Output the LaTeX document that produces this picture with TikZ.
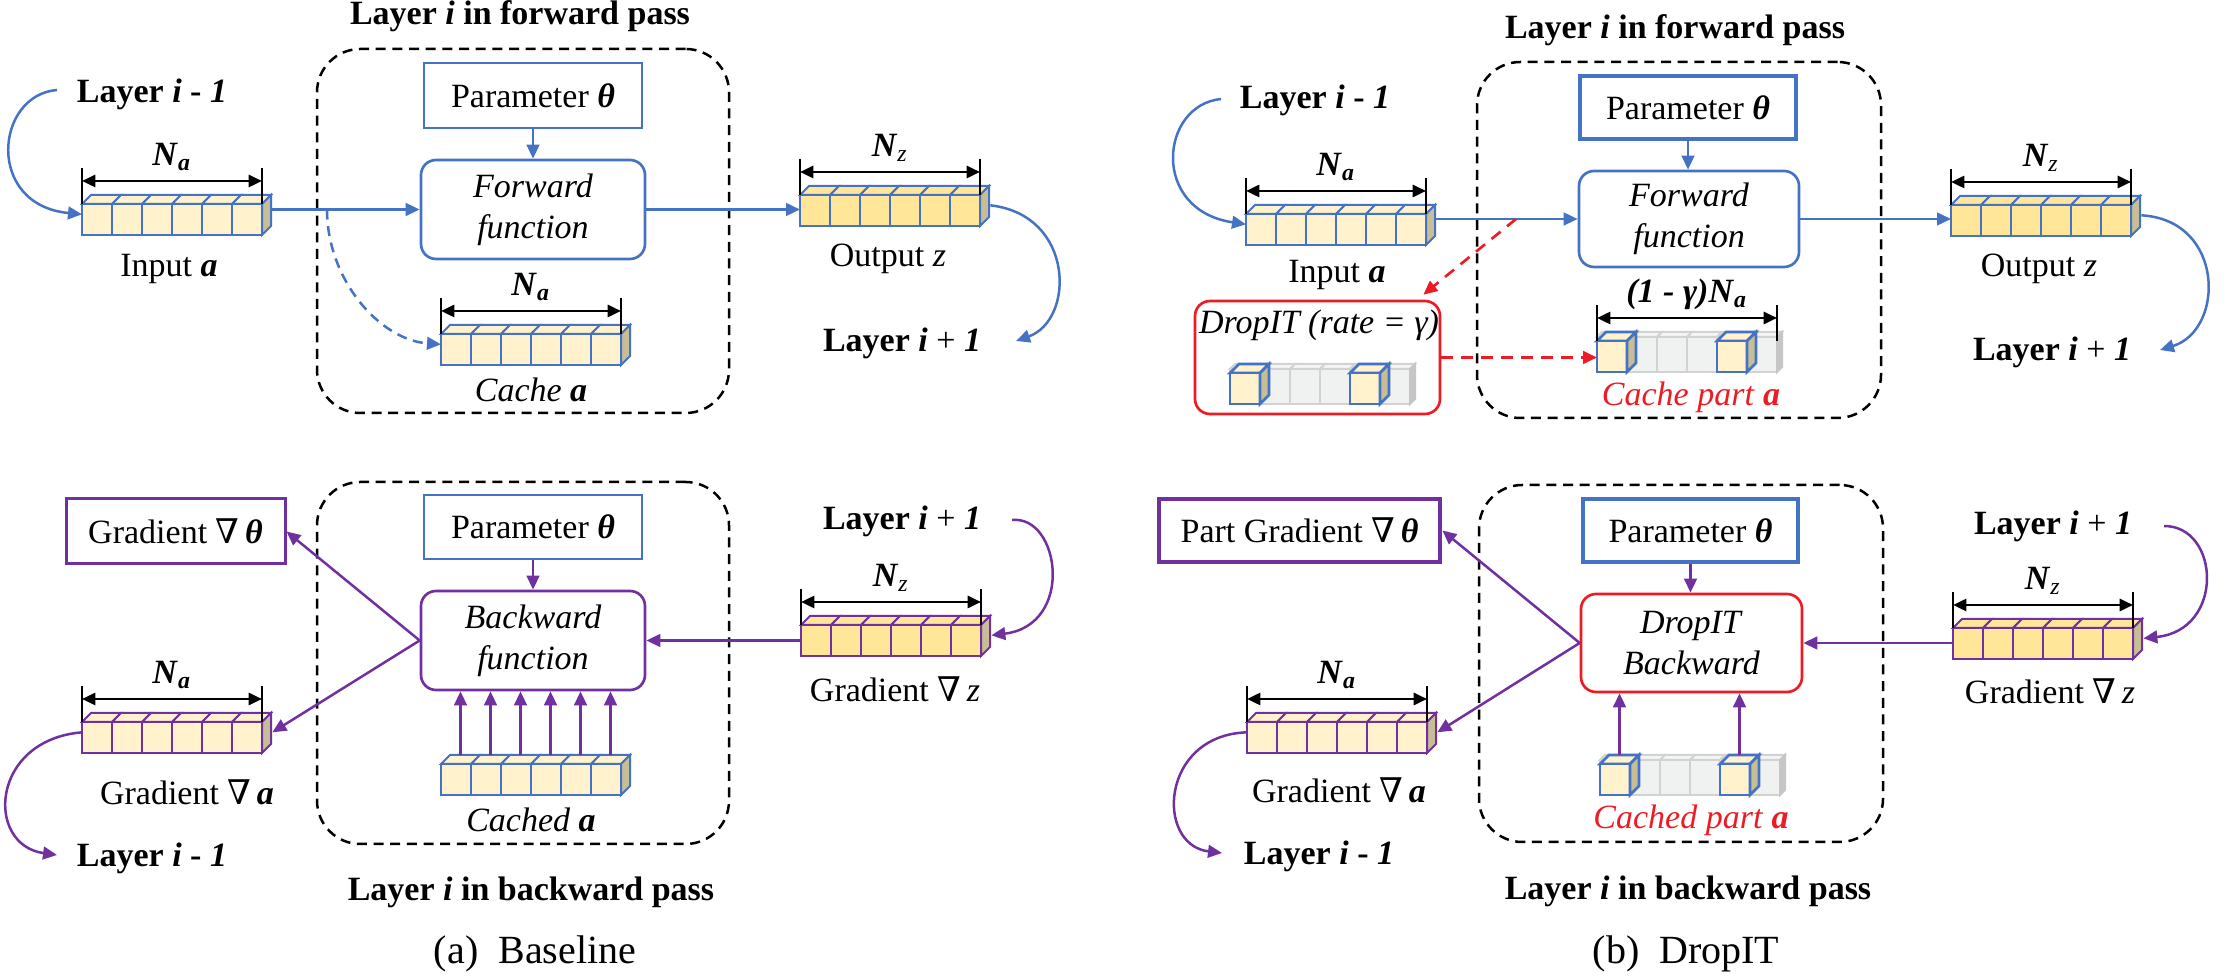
\documentclass[tikz,border=0pt]{standalone}
\usepackage{fontspec}
\setmainfont{Liberation Serif}
\newfontfamily\nablafont{DejaVu Serif}
\usetikzlibrary{arrows.meta,calc}
\newcommand{\U}{0.3pt}
\newcommand{\nab}{{\nablafont\upshape\mdseries ∇}}
\newcommand{\bi}[1]{\textbf{\textit{#1}}}
\definecolor{cblue}{RGB}{68,114,196}
\definecolor{cpurp}{RGB}{112,48,160}
\definecolor{cred}{RGB}{237,28,36}
\definecolor{cream}{RGB}{255,242,204}
\definecolor{gold}{RGB}{255,230,153}
\definecolor{khaki}{RGB}{200,190,150}
\definecolor{lgray}{RGB}{240,242,241}
\definecolor{mgray}{RGB}{210,210,210}
\definecolor{dgray}{RGB}{198,198,198}
% a row of six 3D cells; #1 name, #2 x0, #3 y0 (top of front face), #4 fill, #5 border
\newcommand{\cellrow}[5]{%
  \foreach \i in {0,...,5}{
    \filldraw[fill=#4, draw=#5, line width=0.6pt] ({#2+\i*30},#3) -- ++(9,-9) -- ++(30,0) -- ++(-9,9) -- cycle;
    \filldraw[fill=#4, draw=#5, line width=0.6pt] ({#2+\i*30},#3) rectangle ++(30,31);
  }
  \filldraw[fill=khaki, draw=#5, line width=0.6pt] ({#2+180},#3) -- ++(9,-9) -- ++(0,31) -- ++(-9,9) -- cycle;
  \node[inner sep=0pt, minimum width=189*\U, minimum height=40*\U, anchor=south west] (#1) at (#2,{#3+31}) {};
}
% gray row with cells 0 and 4 kept
\newcommand{\droprow}[3]{%
  \foreach \i in {0,...,5}{
    \filldraw[fill=lgray!70!white, draw=mgray, line width=0.6pt] ({#2+\i*30},{#3-4}) -- ++(5,-5) -- ++(30,0) -- ++(-5,5) -- cycle;
    \filldraw[fill=lgray, draw=mgray, line width=0.6pt] ({#2+\i*30},{#3-4}) rectangle ++(30,35);
  }
  \filldraw[fill=dgray, draw=dgray, line width=0.6pt] ({#2+180},{#3-4}) -- ++(5,-5) -- ++(0,35) -- ++(-5,5) -- cycle;
  \foreach \i in {0,4}{
    \filldraw[fill=cream, draw=cblue, line width=0.8pt] ({#2+\i*30},#3) -- ++(9,-9) -- ++(30,0) -- ++(-9,9) -- cycle;
    \filldraw[fill=cream, draw=cblue, line width=0.8pt] ({#2+\i*30},#3) rectangle ++(30,31);
    \filldraw[fill=khaki, draw=cblue, line width=0.8pt] ({#2+\i*30+30},#3) -- ++(9,-9) -- ++(0,31) -- ++(-9,9) -- cycle;
  }
  \node[inner sep=0pt, minimum width=189*\U, minimum height=40*\U, anchor=south west] (#1) at (#2,{#3+31}) {};
}
% dimension line above a row
\newcommand{\dimline}[4]{%
  \coordinate (#1L) at (#2,{#3-23});
  \coordinate (#1R) at ({#2+180},{#3-23});
  \draw[black, line width=0.35pt] (#2,{#3-36}) -- (#2,#3);
  \draw[black, line width=0.35pt] ({#2+180},{#3-36}) -- ({#2+180},#3);
  \draw[dimarr] (#1L) -- (#1R);
  \node[anchor=base, inner sep=0pt] (#1N) at ({#2+90},{#3-38}) {#4};
}
\begin{document}
\begin{tikzpicture}[x=0.3pt, y=-0.3pt,
  font=\fontsize{10.2pt}{12.3pt}\selectfont,
  ttl/.style={font=\fontsize{10.2pt}{12.3pt}\selectfont\bfseries},
  capt/.style={font=\fontsize{12pt}{14pt}\selectfont},
  layerbox/.style={draw=black, dash pattern=on 3pt off 2pt, line width=0.75pt, rounded corners=13pt, inner sep=0pt},
  parbox/.style={draw=cblue, line width=0.8pt, inner sep=0pt, fill=white},
  parboxb/.style={draw=cblue, line width=1.3pt, inner sep=0pt, fill=white},
  fwdbox/.style={draw=cblue, line width=0.8pt, rounded corners=4.5pt, inner sep=0pt, align=center, fill=white},
  bwdbox/.style={draw=cpurp, line width=0.8pt, rounded corners=4.5pt, inner sep=0pt, align=center, fill=white},
  redbox/.style={draw=cred, line width=0.8pt, rounded corners=4.5pt, inner sep=0pt, align=center, fill=white},
  gbox/.style={draw=cpurp, line width=0.9pt, inner sep=0pt},
  gboxb/.style={draw=cpurp, line width=1.4pt, inner sep=0pt},
  barrow/.style={draw=cblue, line width=0.75pt, -{Triangle[length=4.2pt,width=3.8pt]}},
  parrow/.style={draw=cpurp, line width=0.75pt, -{Triangle[length=4.2pt,width=3.8pt]}},
  rarrow/.style={draw=cred, line width=0.8pt, dash pattern=on 3.5pt off 2.5pt, -{Triangle[length=4.2pt,width=3.8pt]}},
  dimarr/.style={black, line width=0.8pt, {Triangle[length=4pt,width=3.6pt]}-{Triangle[length=4pt,width=3.6pt]}}
]
\useasboundingbox (0,0) rectangle (2224,980);

% ================= (a) forward =================
\node[ttl] (aT1) at (520,16) {Layer \textit{i} in forward pass};
\node[layerbox, minimum width=412*\U, minimum height=364*\U] (aL1) at (523,231) {};
\node[parbox, minimum width=218*\U, minimum height=65*\U] (aP1) at (533,95.5) {Parameter \bi{θ}};
\node[fwdbox, minimum width=224*\U, minimum height=99*\U] (aF) at (533,209.5) {\textit{Forward}\\\textit{function}};
\draw[barrow] (aP1) -- (aF);
\cellrow{aIn}{82}{204}{cream}{cblue}
\dimline{aInD}{82}{204}{\bi{N}\textsubscript{\bi{a}}}
\node (aInT) at (169,269) {Input \bi{a}};
\node (aLm1) at (152,94) {\textbf{Layer \textit{i} - \textit{1}}};
\coordinate (aLm1s) at (57,90);
\draw[barrow] (aLm1s) .. controls (-5,95) and (-15,205) .. (aIn.west);
\draw[barrow] (aIn.east |- aF.west) -- (aF.west);
\coordinate (aSp) at (327,209.5);
\cellrow{aC}{441}{334}{cream}{cblue}
\dimline{aCD}{441}{334}{\bi{N}\textsubscript{\bi{a}}}
\node (aCT) at (531,390) {\textit{Cache} \bi{a}};
\draw[barrow, dash pattern=on 3pt off 2pt] (aSp) .. controls (327,280) and (380,340) .. (aC.west);
\cellrow{aO}{800}{195}{gold}{cblue}
\dimline{aOD}{800}{195}{\bi{N}\textsubscript{\textit{z}}}
\node (aOT) at (888,259) {Output \textit{z}};
\draw[barrow] (aF.east) -- (aF.east -| aO.west);
\node (aLp1) at (902,343) {\textbf{Layer \textit{i}} + \bi{1}};
\coordinate (aLp1e) at (1016,341);
\draw[barrow] (aO.east) .. controls (1075,215) and (1075,320) .. (aLp1e);

% ================= (a) backward =================
\node[layerbox, minimum width=412*\U, minimum height=362*\U] (aL2) at (523,663) {};
\node[parbox, minimum width=218*\U, minimum height=64*\U] (aP2) at (533,527) {Parameter \bi{θ}};
\node[bwdbox, minimum width=224*\U, minimum height=99*\U] (aB) at (533,640.5) {\textit{Backward}\\\textit{function}};
\draw[parrow] (aP2) -- (aB);
\node[gbox, minimum width=219*\U, minimum height=65*\U] (aG) at (175.5,531.5) {Gradient \nab\,\bi{θ}};
\cellrow{aGa}{82}{722}{cream}{cpurp}
\dimline{aGaD}{82}{722}{\bi{N}\textsubscript{\bi{a}}}
\draw[parrow] (aB.west) -- (aG.east);
\draw[parrow] (aB.west) -- (aGa.east);
\cellrow{aGz}{801}{625}{gold}{cpurp}
\dimline{aGzD}{801}{625}{\bi{N}\textsubscript{\textit{z}}}
\draw[parrow] (aB.east -| aGz.west) -- (aB.east);
\node (aGzT) at (895,689) {Gradient \nab\,\textit{z}};
\node (aGaT) at (187,792) {Gradient \nab\,\bi{a}};
\node (aLp1b) at (902,521) {\textbf{Layer \textit{i}} + \bi{1}};
\coordinate (aLp1bs) at (1012,520);
\draw[parrow] (aLp1bs) .. controls (1060,515) and (1075,625) .. (aGz.east);
\node (aLm1b) at (152,858) {\textbf{Layer \textit{i} - \textit{1}}};
\coordinate (aLm1be) at (57,855);
\draw[parrow] (aGa.west) .. controls (-10,740) and (-15,845) .. (aLm1be);
\cellrow{aCd}{441}{764}{cream}{cblue}
\foreach \i in {0,...,5}{
  \coordinate (aCa\i) at ({441+\i*30+19.5},755);
  \draw[parrow] (aCa\i) -- (aCa\i |- aB.south);
}
\node (aCdT) at (531,820) {\textit{Cached} \bi{a}};
\node[ttl] (aT2) at (531,892) {Layer \textit{i} in backward pass};
\node[capt] (aCap) at (535,954) {(a)~~Baseline};

% ================= (b) forward =================
\node[ttl] (bT1) at (1675,30) {Layer \textit{i} in forward pass};
\node[layerbox, minimum width=404*\U, minimum height=356*\U] (bL1) at (1679,240) {};
\node[parboxb, minimum width=216*\U, minimum height=63*\U] (bP1) at (1688,107.5) {Parameter \bi{θ}};
\node[fwdbox, minimum width=220*\U, minimum height=96*\U] (bF) at (1689,219) {\textit{Forward}\\\textit{function}};
\draw[barrow] (bP1.south) -- (bP1.south |- bF.north);
\cellrow{bIn}{1246}{214}{cream}{cblue}
\dimline{bInD}{1246}{214}{\bi{N}\textsubscript{\bi{a}}}
\node (bInT) at (1337,275) {Input \bi{a}};
\node (bLm1) at (1315,100) {\textbf{Layer \textit{i} - \textit{1}}};
\coordinate (bLm1s) at (1221,99);
\draw[barrow] (bLm1s) .. controls (1160,105) and (1150,210) .. (bIn.west);
\draw[barrow] (bIn.east |- bF.west) -- (bF.west);
\coordinate (bSp) at (1516,219);
\node[redbox, minimum width=245*\U, minimum height=113*\U] (bD) at (1317.5,357.5) {};
\node (bDT) at (1319,325) {\textit{DropIT (rate = γ)}};
\droprow{bDr}{1230}{373}
\draw[rarrow] (bSp) -- ($(bD.north east)+(-18,-5)$);
\droprow{bCp}{1597}{341}
\dimline{bCpD}{1597}{341}{\bi{(1 - γ)N}\textsubscript{\bi{a}}}
\node[text=cred] (bCpT) at (1691,397) {\textit{Cache part} \bi{a}};
\draw[rarrow] (bD.east) -- (bD.east -| bCp.west);
\cellrow{bO}{1951}{205}{gold}{cblue}
\dimline{bOD}{1951}{205}{\bi{N}\textsubscript{\textit{z}}}
\node (bOT) at (2039,269) {Output \textit{z}};
\draw[barrow] (bF.east) -- (bF.east -| bO.west);
\node (bLp1) at (2052,352) {\textbf{Layer \textit{i}} + \bi{1}};
\coordinate (bLp1e) at (2160,350);
\draw[barrow] (bO.east) .. controls (2225,220) and (2225,330) .. (bLp1e);

% ================= (b) backward =================
\node[layerbox, minimum width=404*\U, minimum height=357*\U] (bL2) at (1681,663.5) {};
\node[parboxb, minimum width=215*\U, minimum height=63*\U] (bP2) at (1690.5,530.5) {Parameter \bi{θ}};
\node[redbox, minimum width=221*\U, minimum height=98*\U] (bDB) at (1691.5,643) {\textit{DropIT}\\\textit{Backward}};
\draw[parrow] (bP2.south) -- (bP2.south |- bDB.north);
\node[gboxb, minimum width=281*\U, minimum height=63*\U] (bPG) at (1299.5,530.5) {Part Gradient \nab\,\bi{θ}};
\cellrow{bGa}{1247}{722}{cream}{cpurp}
\dimline{bGaD}{1247}{722}{\bi{N}\textsubscript{\bi{a}}}
\draw[parrow] (bDB.west) -- (bPG.east);
\draw[parrow] (bDB.west) -- (bGa.east);
\cellrow{bGz}{1953}{628}{gold}{cpurp}
\dimline{bGzD}{1953}{628}{\bi{N}\textsubscript{\textit{z}}}
\draw[parrow] (bDB.east -| bGz.west) -- (bDB.east);
\node (bGzT) at (2050,691) {Gradient \nab\,\textit{z}};
\node (bGaT) at (1339,790) {Gradient \nab\,\bi{a}};
\node (bLp1b) at (2053,526) {\textbf{Layer \textit{i}} + \bi{1}};
\coordinate (bLp1bs) at (2164,526);
\draw[parrow] (bLp1bs) .. controls (2220,526) and (2225,630) .. (bGz.east);
\node (bLm1b) at (1319,856) {\textbf{Layer \textit{i} - \textit{1}}};
\coordinate (bLm1be) at (1222,853);
\draw[parrow] (bGa.west) .. controls (1160,735) and (1155,845) .. (bLm1be);
\droprow{bCd}{1600}{764}
\foreach \i in {0,4}{
  \coordinate (bCa\i) at ({1600+\i*30+19.5},755);
  \draw[parrow] (bCa\i) -- (bCa\i |- bDB.south);
}
\node[text=cred] (bCdT) at (1691,820) {\textit{Cached part} \bi{a}};
\node[ttl] (bT2) at (1688,891) {Layer \textit{i} in backward pass};
\node[capt] (bCap) at (1686,954) {(b)~~DropIT};
\end{tikzpicture}
\end{document}
